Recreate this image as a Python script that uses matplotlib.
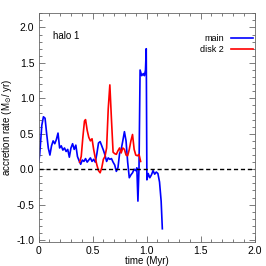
import matplotlib
matplotlib.use('Agg')
import matplotlib.pyplot as plt
from matplotlib.ticker import MultipleLocator, FixedLocator, FixedFormatter

plt.rcParams['font.family'] = ['Liberation Sans', 'DejaVu Sans']
plt.rcParams['mathtext.fontset'] = 'dejavusans'

# main halo accretion history (time in Myr, rate in Msun/yr)
main_t = [0.00, 0.01, 0.03, 0.045, 0.06, 0.075, 0.09, 0.105, 0.12, 0.135, 0.15, 0.165,
          0.18, 0.195, 0.21, 0.225, 0.24, 0.255, 0.27, 0.285, 0.30, 0.315, 0.33, 0.345,
          0.36, 0.375, 0.39, 0.405, 0.42, 0.435, 0.45, 0.465, 0.48, 0.495, 0.51, 0.525,
          0.54, 0.555, 0.57, 0.585, 0.60, 0.615, 0.63, 0.645, 0.66, 0.675, 0.69, 0.705,
          0.72, 0.735, 0.75, 0.765, 0.78, 0.795, 0.81, 0.825, 0.84, 0.855, 0.87, 0.885,
          0.90, 0.91, 0.92, 0.93, 0.94, 0.955, 0.97, 0.98, 0.99, 0.997, 1.003, 1.015,
          1.03, 1.045, 1.06, 1.075, 1.09, 1.105, 1.12, 1.135, 1.146]
main_rate = [0.10, 0.20, 0.62, 0.74, 0.72, 0.50, 0.30, 0.20, 0.33, 0.40, 0.36, 0.42,
             0.51, 0.30, 0.33, 0.27, 0.30, 0.25, 0.28, 0.17, 0.30, 0.36, 0.28, 0.34,
             0.18, 0.12, 0.07, 0.13, 0.11, 0.15, 0.10, 0.13, 0.16, 0.11, 0.14, 0.10,
             0.22, 0.37, 0.39, 0.33, 0.27, 0.20, 0.11, 0.16, 0.14, 0.15, 0.10, 0.06,
             -0.03, 0.02, 0.22, 0.28, 0.40, 0.53, 0.40, 0.10, -0.12, -0.08, -0.05, 0.00,
             -0.02, 0.02, -0.45, 0.02, 1.40, 1.32, 1.35, 1.32, 1.40, 1.70, -0.15, -0.06,
             -0.12, -0.08, -0.02, -0.07, -0.04, -0.06, -0.18, -0.45, -0.84]

# disk 2
disk_t = [0.38, 0.395, 0.41, 0.425, 0.435, 0.45, 0.465, 0.48, 0.495, 0.51, 0.525, 0.54,
          0.555, 0.57, 0.585, 0.60, 0.615, 0.63, 0.645, 0.66, 0.675, 0.69, 0.705, 0.72,
          0.735, 0.75, 0.765, 0.78, 0.795, 0.81, 0.825, 0.84, 0.855, 0.87, 0.885, 0.90,
          0.915, 0.93, 0.945]
disk_rate = [0.10, 0.18, 0.45, 0.68, 0.70, 0.55, 0.45, 0.40, 0.43, 0.28, 0.16, 0.06,
             -0.02, -0.05, 0.02, 0.14, 0.18, 0.30, 0.85, 1.19, 0.70, 0.24, 0.22, 0.21,
             0.26, 0.30, 0.23, 0.30, 0.28, 0.20, 0.19, 0.28, 0.40, 0.49, 0.28, 0.20,
             0.19, 0.21, 0.11]

x_ticks = [0, 0.5, 1.0, 1.5, 2.0]
x_labels = ['0', '0.5', '1.0', '1.5', '2.0']

fig = plt.figure(figsize=(2.66, 2.66), dpi=100)
ax = fig.add_axes([0.145, 0.092, 0.812, 0.858])

ax.plot(main_t, main_rate, color='#0000ff', lw=1.2, label='main')
ax.plot(disk_t, disk_rate, color='#ff0000', lw=1.2, label='disk 2')
ax.axhline(0, color='black', ls=(0, (3, 2)), lw=1.0)

ax.set_xlim(0, 2.0)
ax.set_ylim(-1.02, 2.2)
ax.xaxis.set_major_locator(FixedLocator(x_ticks))
ax.xaxis.set_major_formatter(FixedFormatter(x_labels))
ax.xaxis.set_minor_locator(MultipleLocator(0.1))
ax.yaxis.set_major_locator(MultipleLocator(0.5))
ax.yaxis.set_minor_locator(MultipleLocator(0.1))
ax.yaxis.set_major_formatter(plt.FormatStrFormatter('%.1f'))
ax.tick_params(which='both', direction='in', top=True, right=True,
               labelsize=7.5, color='0.4', width=0.6)
ax.tick_params(which='major', length=4, pad=3)
ax.tick_params(which='minor', length=2)
for s in ax.spines.values():
    s.set_color('0.4')
    s.set_linewidth(0.6)

ax.set_xlabel('time (Myr)', fontsize=7, labelpad=0)
ax.set_ylabel(r'accretion rate (M$_{\odot}$/ yr)', fontsize=7, labelpad=2)
ax.text(0.135, 1.88, 'halo 1', fontsize=7, va='center')

ax.legend(loc='upper right', frameon=False, fontsize=6.5, markerfirst=False,
          handlelength=2.4, handletextpad=0.8, labelspacing=0.25,
          bbox_to_anchor=(1.03, 0.945))

fig.savefig('out.png', dpi=100)
